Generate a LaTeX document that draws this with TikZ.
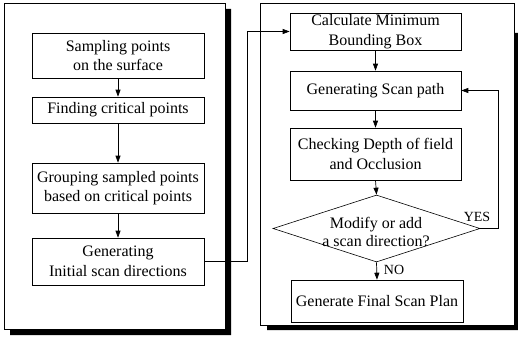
\documentclass[tikz,border=0pt]{standalone}
\usepackage{fontspec}
\setmainfont{Liberation Serif}
\usetikzlibrary{shapes.geometric,arrows.meta}
\begin{document}
\begin{tikzpicture}[x=1pt,y=-1pt,
  box/.style={draw,line width=0.6pt,rectangle,inner sep=0pt,align=center,
    font=\fontsize{16}{19.5}\selectfont},
  arr/.style={line width=0.7pt,-{Triangle[length=7pt,width=5pt]}},
  lbl/.style={font=\fontsize{14}{16}\selectfont,inner sep=0pt},
  panel/.style={draw,line width=0.6pt},
  shadow/.style={fill=black,draw=none}]
\useasboundingbox (0,0) rectangle (518,337);
% panels
\draw[panel] (4,3) rectangle (225,329);
\fill[shadow] (225,9) -- (231,9) -- (231,335) -- (10,335) -- (10,329) -- (225,329) -- cycle;
\draw[panel] (260,3) rectangle (514,325);
\fill[shadow] (514,33) -- (518,33) -- (518,330) -- (267,330) -- (267,325) -- (514,325) -- cycle;
% left column
\node[box,minimum width=172pt,minimum height=45pt] (b1) at (118,55.5) {Sampling points\\on the surface};
\node[box,minimum width=172pt,minimum height=26pt] (b2) at (118,110) {Finding critical points};
\node[box,minimum width=172pt,minimum height=50pt] (b3) at (118,188) {Grouping sampled points\\based on critical points};
\node[box,minimum width=172pt,minimum height=47pt] (b4) at (118,261.5) {Generating\\Initial scan directions};
% right column
\node[box,minimum width=171pt,minimum height=37pt] (A) at (375.5,31.5) {Calculate Minimum\\Bounding Box};
\node[box,minimum width=171pt,minimum height=39pt] (B) at (375.5,90.5) {Generating Scan path};
\node[box,minimum width=171pt,minimum height=52pt] (C) at (375.5,154) {Checking Depth of field\\and Occlusion};
\node[draw,line width=0.6pt,diamond,inner sep=0pt,minimum width=207pt,minimum height=67pt] (dia) at (376.5,228.5) {};
\node[align=center,inner sep=0pt,font=\fontsize{16}{17.5}\selectfont] (diat) at (376,232) {Modify or add\\a scan direction?};
\node[box,minimum width=172pt,minimum height=42pt] (D) at (377,301) {Generate Final Scan Plan};
% connectors
\draw[arr] (b1) -- (b2);
\draw[arr] (b2) -- (b3);
\draw[arr] (b3) -- (b4);
\coordinate (j1) at (247,0);
\draw[arr] (b4.east) -| (j1 |- A.west) -- (A.west);
\draw[arr] (A) -- (B);
\draw[arr] (B) -- (C);
\draw[arr] (C.south) -- (dia.north);
\draw[arr] (dia.south) -- (D.north);
\coordinate (j2) at (498,0);
\draw[arr] (dia.east) -| (j2 |- B.east) -- (B.east);
\node[lbl] (yes) at (477,217) {YES};
\node[lbl] (no) at (394,270) {NO};
\end{tikzpicture}
\end{document}
